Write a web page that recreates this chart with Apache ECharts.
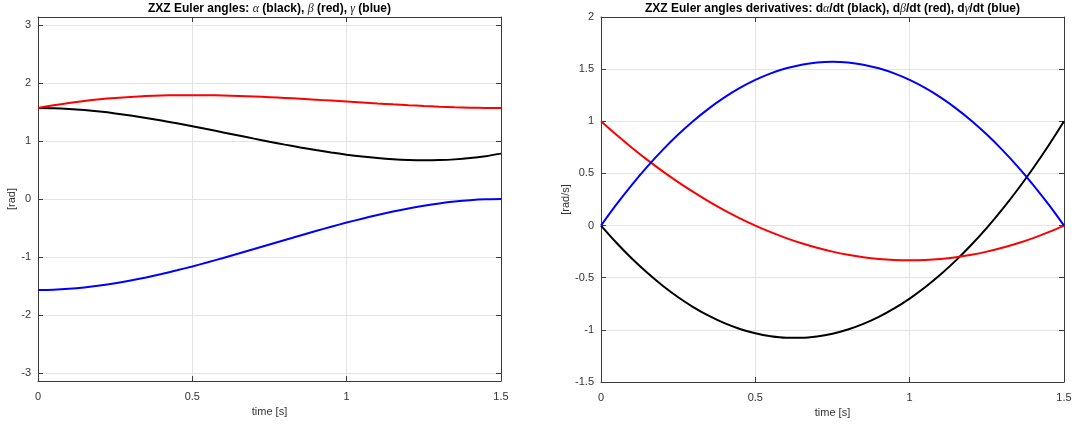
<!DOCTYPE html>
<html>
<head>
<meta charset="utf-8">
<script src="https://cdn.jsdelivr.net/npm/echarts@6/dist/echarts.min.js"></script>
<style>
  html, body { margin: 0; padding: 0; background: #fff; }
  #chart { width: 1077px; height: 424px; }
</style>
</head>
<body>
<div id="chart"></div>
<script>
// Sample times [s]
const time = [0, 0.05, 0.1, 0.15, 0.2, 0.25, 0.3, 0.35, 0.4, 0.45, 0.5,
  0.55, 0.6, 0.65, 0.7, 0.75, 0.8, 0.85, 0.9, 0.95, 1.0,
  1.05, 1.1, 1.15, 1.2, 1.25, 1.3, 1.35, 1.4, 1.45, 1.5];

// ZXZ Euler angles [rad]
const alpha = [1.5708, 1.5666, 1.5546, 1.5353, 1.5094, 1.4778, 1.4409, 1.3996, 1.3545, 1.3063, 1.2556,
  1.2032, 1.1497, 1.0959, 1.0423, 0.9897, 0.9388, 0.8903, 0.8447, 0.8029, 0.7655,
  0.7331, 0.7065, 0.6864, 0.6734, 0.6682, 0.6715, 0.6840, 0.7063, 0.7392, 0.7833];
const beta = [1.5708, 1.6175, 1.6579, 1.6923, 1.7210, 1.7444, 1.7628, 1.7765, 1.7859, 1.7913, 1.7930,
  1.7914, 1.7868, 1.7795, 1.7699, 1.7583, 1.7450, 1.7304, 1.7148, 1.6985, 1.6819,
  1.6653, 1.6490, 1.6334, 1.6188, 1.6055, 1.5939, 1.5843, 1.5770, 1.5724, 1.5708];
const gamma = [-1.5708, -1.5657, -1.5508, -1.5268, -1.4945, -1.4545, -1.4074, -1.3542, -1.2953, -1.2315, -1.1636,
  -1.0921, -1.0179, -0.9416, -0.8638, -0.7854, -0.7070, -0.6292, -0.5529, -0.4787, -0.4072,
  -0.3393, -0.2755, -0.2167, -0.1634, -0.1164, -0.0763, -0.0440, -0.0200, -0.0051, 0];

// Their time derivatives [rad/s]
const dAlpha = [0, -0.1648, -0.3159, -0.4533, -0.5771, -0.6873, -0.7837, -0.8665, -0.9357, -0.9912, -1.0330,
  -1.0612, -1.0757, -1.0765, -1.0637, -1.0373, -0.9971, -0.9433, -0.8759, -0.7948, -0.7000,
  -0.5916, -0.4695, -0.3337, -0.1843, -0.0213, 0.1555, 0.3459, 0.5499, 0.7676, 1.0];
const dBeta = [1.0, 0.87, 0.7467, 0.63, 0.52, 0.4167, 0.32, 0.23, 0.1467, 0.07, 0,
  -0.0633, -0.12, -0.17, -0.2133, -0.25, -0.28, -0.3033, -0.32, -0.33, -0.3333,
  -0.33, -0.32, -0.3033, -0.28, -0.25, -0.2133, -0.17, -0.12, -0.0633, 0];
const dGamma = [0, 0.2025, 0.3910, 0.5655, 0.7260, 0.8727, 1.0053, 1.1240, 1.2287, 1.3195, 1.3963,
  1.4591, 1.5080, 1.5429, 1.5638, 1.5708, 1.5638, 1.5429, 1.5080, 1.4591, 1.3963,
  1.3195, 1.2287, 1.1240, 1.0053, 0.8727, 0.7260, 0.5655, 0.3910, 0.2025, 0];

// Tick positions
const timeTicks = [0, 0.5, 1, 1.5];
const angleTicks = [-3, -2, -1, 0, 1, 2, 3];
const rateTicks = [-1.5, -1, -0.5, 0, 0.5, 1, 1.5, 2];

const FONT = 'Liberation Sans, Arial, Helvetica, sans-serif';
const AXIS_COLOR = '#3a3a3a';
const GRID_COLOR = '#e3e3e3';
const LABEL_COLOR = '#333';

const pairs = (ys) => time.map((t, i) => [t, ys[i]]);

function xAxes(gridIndex) {
  const base = {
    type: 'value', gridIndex, min: timeTicks[0], max: timeTicks[timeTicks.length - 1], interval: 0.5,
    axisLine: { show: true, onZero: false, lineStyle: { color: AXIS_COLOR, width: 1 } },
    axisTick: { show: true, inside: true, length: 5, lineStyle: { color: AXIS_COLOR } }
  };
  return [
    Object.assign({}, base, {
      position: 'bottom',
      name: 'time [s]', nameLocation: 'middle', nameGap: 22,
      nameTextStyle: { color: LABEL_COLOR, fontSize: 11, fontFamily: FONT },
      axisLabel: { color: LABEL_COLOR, fontSize: 11, fontFamily: FONT, margin: 10 },
      splitLine: { show: true, lineStyle: { color: GRID_COLOR, width: 1 } }
    }),
    Object.assign({}, base, {
      position: 'top',
      axisLabel: { show: false },
      splitLine: { show: false }
    })
  ];
}

function yAxes(gridIndex, opts) {
  const tickCfg = { show: true, inside: true, length: 5, lineStyle: { color: AXIS_COLOR } };
  const base = {
    type: 'value', gridIndex, min: opts.min, max: opts.max,
    axisLine: { show: true, onZero: false, lineStyle: { color: AXIS_COLOR, width: 1 } }
  };
  if (opts.interval) base.interval = opts.interval;
  const tick = Object.assign({}, tickCfg);
  if (opts.custom) tick.customValues = opts.custom;
  const label = { color: LABEL_COLOR, fontSize: 11, fontFamily: FONT, margin: 7 };
  if (opts.custom) label.customValues = opts.custom;
  return [
    Object.assign({}, base, {
      position: 'left',
      name: opts.name, nameLocation: 'middle', nameGap: opts.nameGap, nameRotate: 90,
      nameTextStyle: { color: LABEL_COLOR, fontSize: 11, fontFamily: FONT },
      axisTick: tick,
      axisLabel: label,
      splitLine: { show: true, lineStyle: { color: GRID_COLOR, width: 1 } }
    }),
    Object.assign({}, base, {
      position: 'right',
      axisTick: tick,
      axisLabel: { show: false, customValues: opts.custom },
      splitLine: { show: false }
    })
  ];
}

const titleRich = {
  b: { fontWeight: 'bold', fontSize: 12, lineHeight: 14, fontFamily: FONT, color: '#000' },
  g: { fontStyle: 'italic', fontWeight: 'normal', fontSize: 12, lineHeight: 14, fontFamily: 'Liberation Serif, DejaVu Serif, serif', color: '#222' }
};

function line(name, xi, yi, data, color) {
  return {
    name, type: 'line', xAxisIndex: xi, yAxisIndex: yi,
    data: pairs(data), smooth: 0.3, showSymbol: false, symbol: 'none',
    lineStyle: { color, width: 2 }, itemStyle: { color },
    animation: false, z: 3
  };
}

const chart = echarts.init(document.getElementById('chart'), null, { renderer: 'canvas' });
chart.setOption({
  animation: false,
  backgroundColor: '#fff',
  title: [
    {
      text: '{b|ZXZ Euler angles: }{g|α}{b| (black), }{g|β}{b| (red), }{g|γ}{b| (blue)}',
      left: 269.5, top: 2, padding: 0, textAlign: 'center',
      textStyle: { rich: titleRich }
    },
    {
      text: '{b|ZXZ Euler angles derivatives: d}{g|α}{b|/dt (black), d}{g|β}{b|/dt (red), d}{g|γ}{b|/dt (blue)}',
      left: 832.5, top: 2, padding: 0, textAlign: 'center',
      textStyle: { rich: titleRich }
    }
  ],
  grid: [
    { left: 38, right: 576, top: 17, bottom: 43 },
    { left: 601, right: 13, top: 17, bottom: 42 }
  ],
  xAxis: [...xAxes(0), ...xAxes(1)],
  yAxis: [
    ...yAxes(0, { min: -Math.PI, max: Math.PI, custom: angleTicks, name: '[rad]', nameGap: 20 }),
    ...yAxes(1, { min: rateTicks[0], max: rateTicks[rateTicks.length - 1], interval: 0.5, name: '[rad/s]', nameGap: 27 })
  ],
  series: [
    line('alpha', 0, 0, alpha, '#000000'),
    line('beta', 0, 0, beta, '#ff0000'),
    line('gamma', 0, 0, gamma, '#0000ff'),
    line('dalpha', 2, 2, dAlpha, '#000000'),
    line('dbeta', 2, 2, dBeta, '#ff0000'),
    line('dgamma', 2, 2, dGamma, '#0000ff')
  ]
});
</script>
</body>
</html>
